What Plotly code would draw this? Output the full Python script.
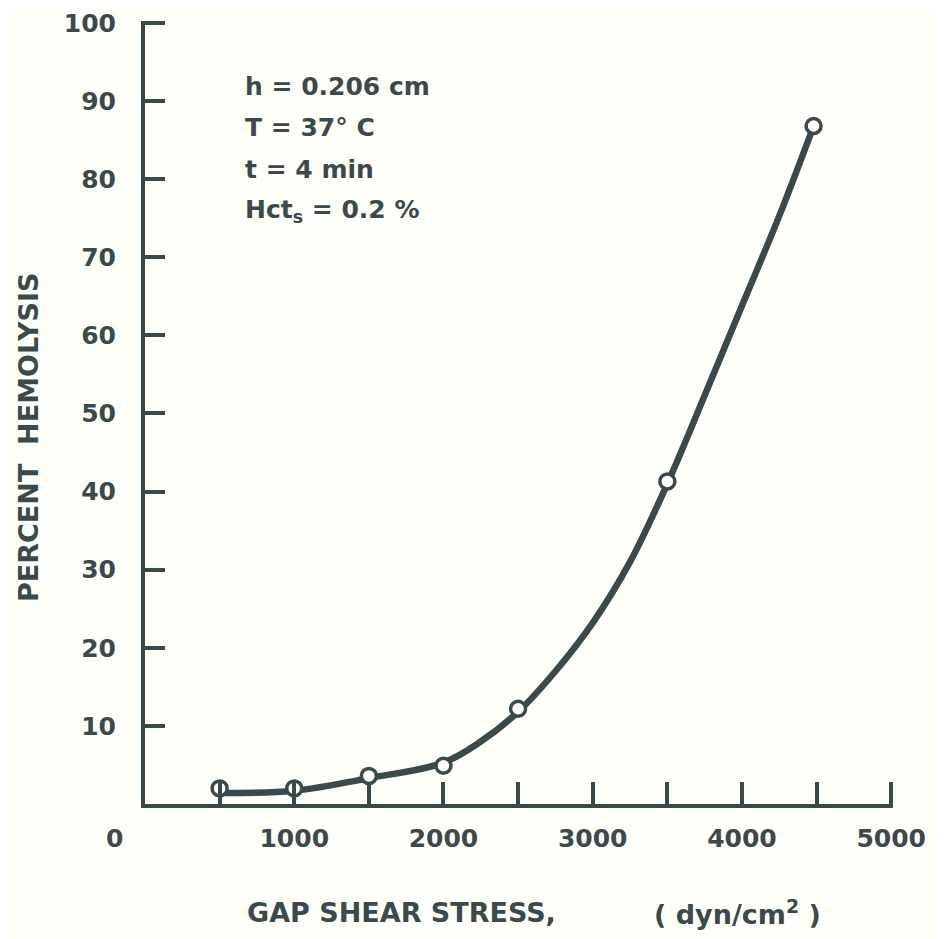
import plotly.graph_objects as go

# Measured points (gap shear stress, dyn/cm^2 ; percent hemolysis)
stress_pts = [500, 1000, 1500, 2000, 2500, 3500, 4480]
hemo_pts = [2.0, 2.0, 3.6, 4.9, 12.2, 41.3, 86.8]

# Smooth fitted curve
curve_x = [500, 1000, 1500, 2000, 2250, 2500, 2750, 3000, 3250, 3500, 3750, 4000, 4250, 4480]
curve_y = [1.4, 1.7, 3.3, 5.3, 8.0, 11.8, 17.0, 23.2, 31.0, 41.0, 52.3, 63.8, 75.3, 86.8]

x_ticks = [1000, 2000, 3000, 4000, 5000]
y_ticks = [10, 20, 30, 40, 50, 60, 70, 80, 90, 100]

conditions = ["h = 0.206 cm", "T = 37° C", "t = 4 min", "Hct<sub>s</sub> = 0.2 %"]

INK = "#3a4a4a"
BG = "#fffffa"
TICKFONT = dict(family="DejaVu Sans", size=25, color=INK, weight="bold")
TITLEFONT = dict(family="DejaVu Sans", size=27, color=INK, weight="bold")
NOTEFONT = dict(family="DejaVu Sans", size=25, color=INK, weight="bold")

# Page body has an 8 px margin; figure is sized to fit the 944x939 window
W, H = 936, 931
L, R, T, B = 137, 51, 13, 135
PW, PH = W - L - R, H - T - B
OFF = 8


def px(sx):
    return (sx - OFF - L) / PW


def py(sy):
    return (OFF + H - B - sy) / PH


fig = go.Figure()
fig.add_trace(go.Scatter(x=curve_x, y=curve_y, mode="lines",
                         line=dict(color=INK, width=6.5, shape="spline", smoothing=1.0),
                         hoverinfo="skip", showlegend=False))
fig.add_trace(go.Scatter(x=stress_pts, y=hemo_pts, mode="markers",
                         marker=dict(symbol="circle", size=15, color="white",
                                     line=dict(color=INK, width=3.5)),
                         showlegend=False, cliponaxis=False))

fig.update_xaxes(range=[0, 5012], tickvals=x_ticks, ticktext=[str(v) for v in x_ticks],
                 minor=dict(dtick=500, tick0=0, ticks="inside", ticklen=22, tickwidth=4,
                            tickcolor=INK),
                 ticks="inside", ticklen=22, tickwidth=4, tickcolor=INK,
                 showline=True, linecolor=INK, linewidth=4, showgrid=False, zeroline=False,
                 tickfont=TICKFONT, ticklabelstandoff=9, automargin=False)
fig.update_yaxes(range=[0, 100.25], tickvals=y_ticks, ticktext=[str(v) for v in y_ticks],
                 ticks="inside", ticklen=20, tickwidth=4, tickcolor=INK,
                 showline=True, linecolor=INK, linewidth=4, showgrid=False, zeroline=False,
                 tickfont=TICKFONT, ticklabelstandoff=20, automargin=False)

annotations = []
for i, t in enumerate(conditions):
    annotations.append(dict(x=px(243), y=py(86 + i * 41.7), xref="paper", yref="paper",
                            text=t, showarrow=False, xanchor="left", yanchor="middle",
                            font=NOTEFONT))
annotations.append(dict(x=px(114), y=py(838), xref="paper", yref="paper", text="0",
                        showarrow=False, xanchor="center", yanchor="middle", font=TICKFONT))
annotations.append(dict(x=px(401), y=py(912), xref="paper", yref="paper",
                        text="GAP SHEAR STRESS,", showarrow=False, xanchor="center",
                        yanchor="middle", font=TITLEFONT))
annotations.append(dict(x=px(737), y=py(912), xref="paper", yref="paper",
                        text="( dyn/cm<sup>2</sup> )", showarrow=False, xanchor="center",
                        yanchor="middle", font=TITLEFONT))
annotations.append(dict(x=px(28), y=py(438), xref="paper", yref="paper",
                        text="PERCENT  HEMOLYSIS", showarrow=False, xanchor="center",
                        yanchor="middle", textangle=-90, font=TITLEFONT))

fig.update_layout(
    width=W, height=H,
    margin=dict(l=L, r=R, t=T, b=B),
    paper_bgcolor=BG, plot_bgcolor=BG,
    showlegend=False,
    annotations=annotations,
)

fig.write_html("out.html")
